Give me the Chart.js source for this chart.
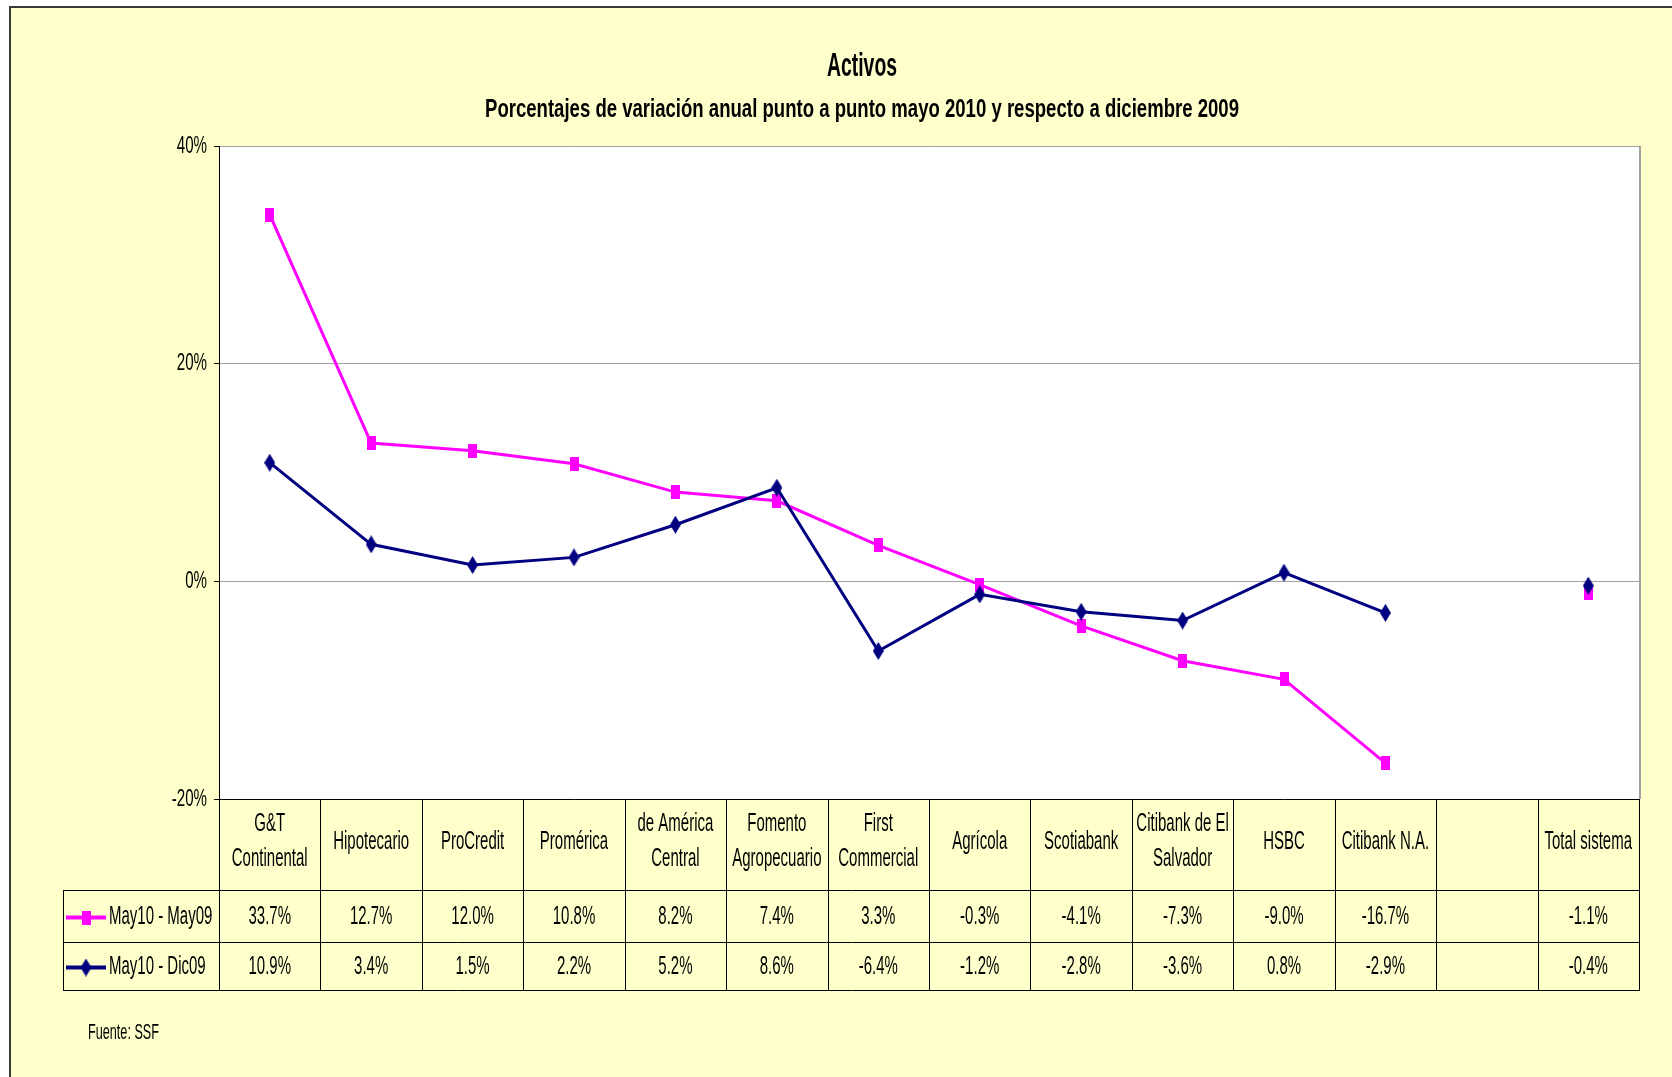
<!DOCTYPE html>
<html>
<head>
<meta charset="utf-8">
<script src="https://cdn.jsdelivr.net/npm/chart.js@4.4.0/dist/chart.umd.min.js"></script>
<style>
  html, body { margin: 0; padding: 0; background: #fff; }
  canvas { display: block; }
</style>
</head>
<body>
<canvas id="activos" width="1672" height="1077"></canvas>
<script>
// data
const categories = [['G&T', 'Continental'], 'Hipotecario', 'ProCredit', 'Promérica', ['de América', 'Central'],
  ['Fomento', 'Agropecuario'], ['First', 'Commercial'], 'Agrícola', 'Scotiabank', ['Citibank de El', 'Salvador'],
  'HSBC', 'Citibank N.A.', '', 'Total sistema'];
const seriesNames = ['May10 - May09', 'May10 - Dic09'];
const mayMay = [33.7, 12.7, 12.0, 10.8, 8.2, 7.4, 3.3, -0.3, -4.1, -7.3, -9.0, -16.7, null, -1.1];
const mayDic = [10.9, 3.4, 1.5, 2.2, 5.2, 8.6, -6.4, -1.2, -2.8, -3.6, 0.8, -2.9, null, -0.4];
const yTicks = [-20, 0, 20, 40];
const title = 'Activos';
const subtitle = 'Porcentajes de variación anual punto a punto mayo 2010 y respecto a diciembre 2009';
const source = 'Fuente: SSF';

const FONT = '"Liberation Sans", Arial, sans-serif';
const MAGENTA = '#FF00FF';
const NAVY = '#000080';

// the original text is very condensed, so squeeze it horizontally
function squeezeText(ctx, text, x, y, opts) {
  ctx.save();
  ctx.font = opts.font;
  ctx.fillStyle = opts.color || '#000';
  ctx.textBaseline = opts.baseline || 'middle';
  ctx.textAlign = opts.align || 'center';
  let sx = opts.sx || 0.6;
  if (opts.width) sx = opts.width / ctx.measureText(text).width;
  ctx.translate(x, y);
  ctx.scale(sx, 1);
  ctx.fillText(text, 0, 0);
  ctx.restore();
}

function marker(shape, w, h, color) {
  const c = document.createElement('canvas');
  c.width = w; c.height = h;
  const g = c.getContext('2d');
  g.fillStyle = color;
  if (shape === 'square') {
    g.fillRect(0, 0, w, h);
  } else {
    g.beginPath();
    g.moveTo(w / 2, 0); g.lineTo(w, h / 2); g.lineTo(w / 2, h); g.lineTo(0, h / 2);
    g.closePath(); g.fill();
  }
  return c;
}

const squareMark = marker('square', 9, 14, MAGENTA);
const diamondMark = marker('diamond', 11, 18, NAVY);

const background = {
  id: 'background',
  beforeDraw(chart) {
    const { ctx, width, height, chartArea } = chart;
    ctx.save();
    ctx.fillStyle = '#fff';
    ctx.fillRect(0, 0, width, height);
    ctx.fillStyle = '#FFFFCC';
    ctx.fillRect(10, 7, width, height);
    ctx.strokeStyle = '#3a3a3a';
    ctx.lineWidth = 2;
    ctx.beginPath();
    ctx.moveTo(10, height); ctx.lineTo(10, 7); ctx.lineTo(width, 7);
    ctx.stroke();
    ctx.fillStyle = '#fff';
    ctx.fillRect(chartArea.left, chartArea.top, chartArea.width, chartArea.height);
    ctx.restore();
  },
  beforeDatasetsDraw(chart) {
    const { ctx, chartArea } = chart;
    ctx.save();
    ctx.strokeStyle = '#a0a0a0';
    ctx.lineWidth = 2;
    ctx.beginPath();
    ctx.moveTo(chartArea.right + 1, chartArea.top);
    ctx.lineTo(chartArea.right + 1, chartArea.bottom);
    ctx.stroke();
    ctx.restore();
  }
};

const dataTable = {
  id: 'dataTable',
  afterDraw(chart) {
    const { ctx, chartArea } = chart;
    const xs = chart.scales.x, ys = chart.scales.y;

    // titles
    squeezeText(ctx, title, 862, 76, { font: 'bold 33px ' + FONT, width: 70, baseline: 'alphabetic' });
    squeezeText(ctx, subtitle, 862, 117, { font: 'bold 26px ' + FONT, width: 754, baseline: 'alphabetic' });

    // y tick labels
    ys.ticks.forEach(t => {
      squeezeText(ctx, t.value + '%', chartArea.left - 12, ys.getPixelForValue(t.value),
        { font: '24px ' + FONT, sx: 0.63, align: 'right' });
    });

    // data table under the plot
    const step = xs.getPixelForValue(1) - xs.getPixelForValue(0);
    const left = chartArea.left, right = chartArea.right, top = chartArea.bottom;
    const headBottom = top + 91, row1Bottom = headBottom + 52, row2Bottom = row1Bottom + 48;
    const legendLeft = 63;

    ctx.save();
    ctx.strokeStyle = '#000';
    ctx.lineWidth = 1;
    ctx.beginPath();
    [headBottom, row1Bottom, row2Bottom].forEach(y => {
      ctx.moveTo(legendLeft, Math.round(y) + 0.5);
      ctx.lineTo(right + 1, Math.round(y) + 0.5);
    });
    ctx.moveTo(legendLeft + 0.5, headBottom);
    ctx.lineTo(legendLeft + 0.5, row2Bottom);
    for (let i = 0; i <= categories.length; i++) {
      const bx = Math.round(i < categories.length ? xs.getPixelForValue(i) - step / 2 : right) + 0.5;
      ctx.moveTo(bx, top);
      ctx.lineTo(bx, row2Bottom);
    }
    ctx.stroke();
    ctx.restore();

    const cellFont = '25px ' + FONT;
    categories.forEach((label, i) => {
      const cx = xs.getPixelForValue(i);
      const lines = Array.isArray(label) ? label : [label];
      lines.forEach((ln, j) => {
        squeezeText(ctx, ln, cx, top + 43 + (j - (lines.length - 1) / 2) * 35, { font: cellFont, sx: 0.6 });
      });
    });

    const rows = [
      { values: mayMay, y: (headBottom + row1Bottom) / 2 + 1.5, color: MAGENTA, mark: squareMark, name: seriesNames[0] },
      { values: mayDic, y: (row1Bottom + row2Bottom) / 2 + 1.5, color: NAVY, mark: diamondMark, name: seriesNames[1] }
    ];
    rows.forEach(r => {
      r.values.forEach((v, i) => {
        if (v === null) return;
        squeezeText(ctx, v.toFixed(1) + '%', xs.getPixelForValue(i), r.y, { font: cellFont, sx: 0.6 });
      });
      ctx.save();
      ctx.strokeStyle = r.color;
      ctx.lineWidth = 4;
      ctx.beginPath();
      ctx.moveTo(66, r.y); ctx.lineTo(106, r.y);
      ctx.stroke();
      ctx.drawImage(r.mark, 86 - r.mark.width / 2, r.y - r.mark.height / 2);
      ctx.restore();
      squeezeText(ctx, r.name, 109, r.y, { font: cellFont, sx: 0.6, align: 'left' });
    });

    squeezeText(ctx, source, 88, 1039, { font: '22px ' + FONT, width: 71, align: 'left', baseline: 'alphabetic' });
  }
};

new Chart(document.getElementById('activos'), {
  type: 'line',
  data: {
    labels: categories,
    datasets: [
      {
        label: seriesNames[0],
        data: mayMay,
        borderColor: MAGENTA,
        backgroundColor: MAGENTA,
        borderWidth: 3,
        pointStyle: squareMark,
        pointRadius: 6,
        spanGaps: false,
        order: 1
      },
      {
        label: seriesNames[1],
        data: mayDic,
        borderColor: NAVY,
        backgroundColor: NAVY,
        borderWidth: 3,
        pointStyle: diamondMark,
        pointRadius: 6,
        spanGaps: false,
        order: 0
      }
    ]
  },
  options: {
    responsive: false,
    animation: false,
    devicePixelRatio: 1,
    clip: false,
    layout: { padding: { left: 159, right: 33, top: 146, bottom: 278 } },
    plugins: {
      legend: { display: false },
      tooltip: { enabled: false },
      title: { display: false }
    },
    scales: {
      x: {
        type: 'category',
        offset: true,
        display: false
      },
      y: {
        min: yTicks[0],
        max: yTicks[yTicks.length - 1],
        ticks: { stepSize: 20, display: false },
        afterFit: (scale) => { scale.width = 60; },
        border: { display: true, color: '#000', width: 1 },
        grid: {
          color: (c) => c.tick && c.tick.value === yTicks[0] ? '#000' : '#a0a0a0',
          lineWidth: 1,
          tickLength: 5,
          tickColor: '#000',
          drawTicks: true
        }
      }
    }
  },
  plugins: [background, dataTable]
});
</script>
</body>
</html>
